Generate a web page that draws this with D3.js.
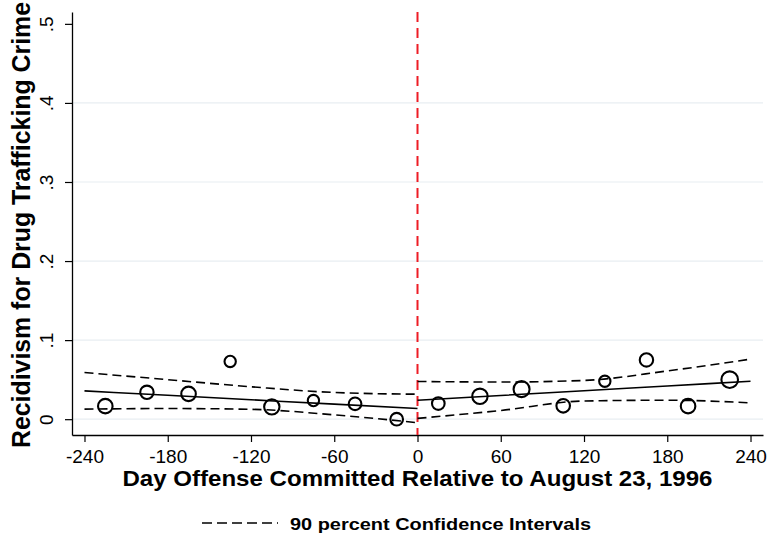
<!DOCTYPE html>
<html>
<head>
<meta charset="utf-8">
<script src="https://cdn.jsdelivr.net/npm/d3@7"></script>
<style>
  body { margin: 0; background: #fff; }
  text { font-family: "Liberation Sans", Arial, sans-serif; }
</style>
</head>
<body>
<svg id="chart"></svg>
<script>
// binned means (30-day bins)
const binDays = [-225, -195, -165, -135, -105, -75, -45, -15, 15, 45, 75, 105, 135, 165, 195, 225];
const binRates = [0.0165, 0.034, 0.032, 0.073, 0.0156, 0.0236, 0.0194, 0.0, 0.0198, 0.029, 0.038, 0.0169, 0.048, 0.075, 0.0165, 0.050];
const binCounts = [53, 45, 53, 32, 59, 32, 40, 40, 40, 59, 64, 46, 32, 45, 53, 69];

// fitted lines and 90% bands
const fitLeftDays = [-240, -180, -120, -60, 0];
const fitLeft = [0.0358, 0.0302, 0.0246, 0.0190, 0.0135];
const upperLeft = [0.059, 0.050, 0.041, 0.0338, 0.0316];
const lowerLeft = [0.0127, 0.0135, 0.0125, 0.0055, -0.0045];

const fitRightDays = [0, 60, 120, 180, 240];
const fitRight = [0.024, 0.030, 0.036, 0.042, 0.048];
const upperRight = [0.0477, 0.047, 0.049, 0.061, 0.076];
const lowerRight = [0.001, 0.011, 0.023, 0.024, 0.0207];

const xTicks = [-240, -180, -120, -60, 0, 60, 120, 180, 240];
const yTicks = [0, 0.1, 0.2, 0.3, 0.4, 0.5];
const yTickLabels = ["0", ".1", ".2", ".3", ".4", ".5"];

const width = 769, height = 535;
const margin = { top: 12, right: 6, bottom: 100, left: 72 };

const svg = d3.select("#chart")
    .attr("width", width)
    .attr("height", height);

const x = d3.scaleLinear().domain([-249, 249]).range([margin.left, width - margin.right]);
const y = d3.scaleLinear().domain([-0.02, 0.515]).range([height - margin.bottom, margin.top]);
const r = d3.scaleSqrt().domain([0, d3.max(binCounts)]).range([0, 8.3]);

// grid
svg.append("g")
    .selectAll("line")
    .data(yTicks.filter(d => d < 0.5))
    .join("line")
    .attr("x1", margin.left)
    .attr("x2", width - margin.right)
    .attr("y1", d => y(d))
    .attr("y2", d => y(d))
    .attr("stroke", "#e8eef2")
    .attr("stroke-width", 1.2);

// axes
const yAxis = svg.append("g")
    .attr("transform", `translate(${margin.left},0)`)
    .call(d3.axisLeft(y).tickValues(yTicks).tickFormat((d, i) => yTickLabels[i]).tickSize(7).tickSizeOuter(0));
yAxis.select(".domain").attr("stroke", "#000").attr("stroke-width", 1.3);
yAxis.selectAll(".tick line").attr("stroke", "#000").attr("stroke-width", 1.2);
yAxis.selectAll(".tick text")
    .attr("font-size", 19)
    .attr("fill", "#000")
    .attr("transform", "rotate(-90)")
    .attr("text-anchor", "middle")
    .attr("x", 0)
    .attr("y", -19)
    .attr("dy", 0);

const xAxis = svg.append("g")
    .attr("transform", `translate(0,${height - margin.bottom})`)
    .call(d3.axisBottom(x).tickValues(xTicks).tickFormat(d => String(d)).tickSize(7).tickSizeOuter(0));
xAxis.select(".domain").attr("stroke", "#000").attr("stroke-width", 1.3);
xAxis.selectAll(".tick line").attr("stroke", "#000").attr("stroke-width", 1.2);
xAxis.selectAll(".tick text")
    .attr("font-size", 19)
    .attr("fill", "#000")
    .attr("y", 10)
    .attr("dy", "0.95em");

// cutoff line
svg.append("line")
    .attr("x1", x(0)).attr("x2", x(0))
    .attr("y1", margin.top).attr("y2", height - margin.bottom)
    .attr("stroke", "#ee1c25")
    .attr("stroke-width", 2)
    .attr("stroke-dasharray", "10,6");

// fits and bands
const line = d3.line().curve(d3.curveMonotoneX);
function drawLine(days, vals, dashed) {
    svg.append("path")
        .attr("d", line(days.map((d, i) => [x(d), y(vals[i])])))
        .attr("fill", "none")
        .attr("stroke", "#000")
        .attr("stroke-width", 1.6)
        .attr("stroke-dasharray", dashed ? "9,5" : null);
}
drawLine(fitLeftDays, fitLeft, false);
drawLine(fitLeftDays, upperLeft, true);
drawLine(fitLeftDays, lowerLeft, true);
drawLine(fitRightDays, fitRight, false);
drawLine(fitRightDays, upperRight, true);
drawLine(fitRightDays, lowerRight, true);

// binned points
svg.append("g")
    .selectAll("circle")
    .data(binDays)
    .join("circle")
    .attr("cx", d => x(d))
    .attr("cy", (d, i) => y(binRates[i]))
    .attr("r", (d, i) => r(binCounts[i]))
    .attr("fill", "none")
    .attr("stroke", "#000")
    .attr("stroke-width", 2.1);

// titles
svg.append("text")
    .attr("x", x(0))
    .attr("y", 486)
    .attr("text-anchor", "middle")
    .attr("font-size", 22.5)
    .attr("font-weight", "bold")
    .attr("textLength", 590)
    .attr("lengthAdjust", "spacingAndGlyphs")
    .text("Day Offense Committed Relative to August 23, 1996");

svg.append("text")
    .attr("transform", "translate(30,225) rotate(-90)")
    .attr("text-anchor", "middle")
    .attr("font-size", 25)
    .attr("font-weight", "bold")
    .attr("textLength", 446)
    .attr("lengthAdjust", "spacingAndGlyphs")
    .text("Recidivism for Drug Trafficking Crime");

// legend
svg.append("line")
    .attr("x1", 202).attr("x2", 278)
    .attr("y1", 523).attr("y2", 523)
    .attr("stroke", "#000")
    .attr("stroke-width", 1.6)
    .attr("stroke-dasharray", "10,5");
svg.append("text")
    .attr("x", 290)
    .attr("y", 530)
    .attr("font-size", 16.5)
    .attr("font-weight", "bold")
    .attr("textLength", 301)
    .attr("lengthAdjust", "spacingAndGlyphs")
    .text("90 percent Confidence Intervals");
</script>
</body>
</html>
